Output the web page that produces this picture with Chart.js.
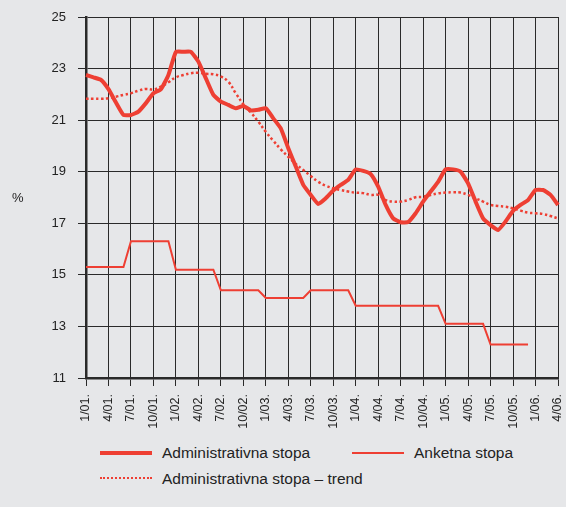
<!DOCTYPE html>
<html>
<head>
<meta charset="utf-8">
<script src="https://cdn.jsdelivr.net/npm/chart.js@4/dist/chart.umd.min.js"></script>
<style>
  body { margin: 0; background: #e6e7e9; font-family: "Liberation Sans", Arial, sans-serif; }
  #wrap { position: relative; width: 566px; height: 507px; }
  #ylab { position: absolute; left: 12px; top: 190px; font-size: 13px; color: #222; }
  .leg { position: absolute; font-size: 15.5px; color: #222; line-height: 18px; }
  .sw { position: absolute; width: 52px; }
</style>
</head>
<body>
<div id="wrap">
  <canvas id="chart" width="566" height="440"></canvas>
  <div id="ylab">%</div>
  <div class="sw" style="left:100px;top:451px;border-top:4px solid #ee3f33;"></div>
  <div class="leg" style="left:162px;top:444px;">Administrativna stopa</div>
  <div class="sw" style="left:352px;top:452px;border-top:2px solid #ee3f33;"></div>
  <div class="leg" style="left:414px;top:444px;">Anketna stopa</div>
  <div class="sw" style="left:100px;top:477px;border-top:2px dotted #ee3f33;"></div>
  <div class="leg" style="left:162px;top:470px;">Administrativna stopa – trend</div>
</div>
<script>
// mjeseci 1/01. - 4/06.
const months = [];
for (let y = 1; y <= 6; y++) {
    for (let m = 1; m <= 12; m++) {
        if (y === 6 && m > 4) break;
        months.push(m + "/0" + y + ".");
    }
}

const yTicks = [11, 13, 15, 17, 19, 21, 23, 25];

const administrativna = [
    22.75, 22.66, 22.56, 22.2, 21.68, 21.2, 21.2, 21.33, 21.66, 22.04, 22.2, 22.75,
    23.65, 23.65, 23.65, 23.27, 22.62, 21.98, 21.72, 21.59, 21.46, 21.55, 21.38, 21.4,
    21.46, 21.07, 20.68, 19.91, 19.2, 18.49, 18.1, 17.75, 17.97, 18.27, 18.49, 18.68,
    19.09, 19.03, 18.91, 18.42, 17.71, 17.19, 17.04, 17.05, 17.39, 17.84, 18.23, 18.61,
    19.09, 19.09, 19.0, 18.55, 17.84, 17.19, 16.93, 16.74, 17.07, 17.48, 17.71, 17.9,
    18.29, 18.29, 18.1, 17.71
];

const anketna = [
    15.3, 15.3, 15.3, 15.3, 15.3, 15.3, 16.3, 16.3, 16.3, 16.3, 16.3, 16.3,
    15.2, 15.2, 15.2, 15.2, 15.2, 15.2, 14.4, 14.4, 14.4, 14.4, 14.4, 14.4,
    14.1, 14.1, 14.1, 14.1, 14.1, 14.1, 14.4, 14.4, 14.4, 14.4, 14.4, 14.4,
    13.8, 13.8, 13.8, 13.8, 13.8, 13.8, 13.8, 13.8, 13.8, 13.8, 13.8, 13.8,
    13.1, 13.1, 13.1, 13.1, 13.1, 13.1, 12.3, 12.3, 12.3, 12.3, 12.3, 12.3,
    null, null, null, null
];

const trend = [
    21.83, 21.83, 21.83, 21.85, 21.91, 21.98, 22.04, 22.14, 22.21, 22.19, 22.3, 22.47,
    22.66, 22.75, 22.82, 22.84, 22.8, 22.78, 22.69, 22.49, 22.04, 21.62, 21.3, 20.94,
    20.55, 20.2, 19.87, 19.58, 19.3, 19.07, 18.83, 18.61, 18.46, 18.36, 18.29, 18.23,
    18.19, 18.17, 18.1, 18.1, 17.9, 17.84, 17.84, 17.9, 18.01, 18.03, 18.1, 18.16,
    18.19, 18.2, 18.19, 18.1, 17.97, 17.84, 17.71, 17.67, 17.64, 17.58, 17.49, 17.41,
    17.39, 17.36, 17.28, 17.19
];

const red = "#ee3f33";
const gridDark = "#2a2a2a";

const ctx = document.getElementById("chart").getContext("2d");
new Chart(ctx, {
    type: "line",
    data: {
        labels: months,
        datasets: [{
            label: "Administrativna stopa",
            data: administrativna,
            borderColor: red,
            borderWidth: 4,
            pointRadius: 0,
            tension: 0.15
        }, {
            label: "Anketna stopa",
            data: anketna,
            borderColor: red,
            borderWidth: 2,
            pointRadius: 0,
            tension: 0
        }, {
            label: "Administrativna stopa – trend",
            data: trend,
            borderColor: red,
            borderWidth: 2.5,
            borderDash: [2.5, 2.5],
            pointRadius: 0,
            tension: 0.4
        }]
    },
    options: {
        responsive: false,
        animation: false,
        layout: { padding: { top: 17, right: 8, left: 0, bottom: 0 } },
        plugins: { legend: { display: false }, tooltip: { enabled: false } },
        scales: {
            x: {
                offset: false,
                afterFit: function (scale) {
                    scale.height = 62;
                    scale.paddingLeft = 0;
                    scale.paddingRight = 0;
                },
                grid: {
                    offset: false,
                    color: c => (c.index % 3 === 0 ? gridDark : "transparent"),
                    tickColor: c => (c.index % 3 === 0 ? gridDark : "transparent"),
                    tickLength: 8,
                    lineWidth: 1
                },
                border: { color: gridDark, width: 2.5 },
                ticks: {
                    autoSkip: false,
                    minRotation: 90,
                    maxRotation: 90,
                    padding: 8,
                    color: "#222",
                    font: { family: "Liberation Sans", size: 12.5 },
                    callback: function (v, i) { return i % 3 === 0 ? months[i] : ""; }
                }
            },
            y: {
                min: 11,
                max: 25,
                afterFit: function (scale) {
                    scale.width = 86;
                    scale.paddingTop = 0;
                    scale.paddingBottom = 0;
                },
                afterBuildTicks: function (scale) { scale.ticks = yTicks.map(v => ({ value: v })); },
                grid: { color: gridDark, tickColor: gridDark, tickLength: 8, lineWidth: 1 },
                border: { color: gridDark, width: 2.5 },
                ticks: {
                    padding: 12,
                    color: "#222",
                    font: { family: "Liberation Sans", size: 13 }
                }
            }
        }
    }
});
</script>
</body>
</html>
